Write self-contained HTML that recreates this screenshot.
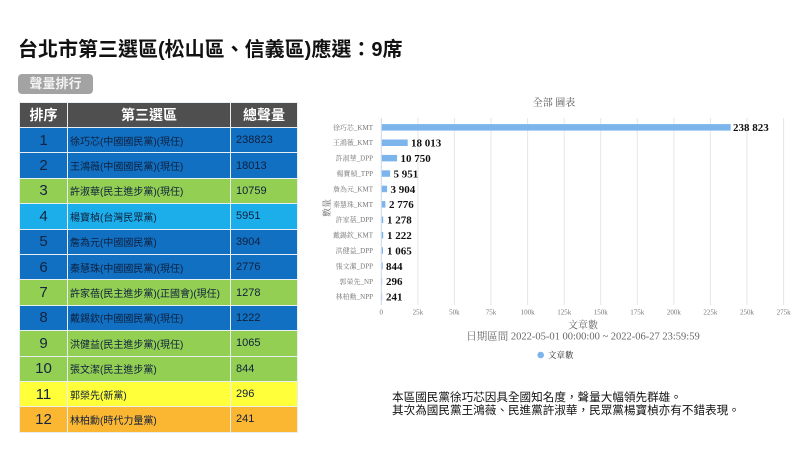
<!DOCTYPE html>
<html lang="zh-Hant">
<head>
<meta charset="utf-8">
<style>
  html,body{margin:0;padding:0;background:#fff;}
  body{width:800px;height:449px;position:relative;overflow:hidden;font-family:"Liberation Sans","Noto Sans CJK TC",sans-serif;}
  .title{position:absolute;left:18px;top:39px;font-size:20px;line-height:22px;font-weight:bold;color:#111;white-space:nowrap;}
  .btn{position:absolute;left:18px;top:74px;width:75px;height:20px;background:#a3a3a3;border-radius:4px;color:#f2f2f2;font-size:13px;font-weight:bold;line-height:20px;text-align:center;}
  table{position:absolute;left:19px;top:102px;border-collapse:collapse;table-layout:fixed;}
  td,th{padding:0;border:1px solid #e8eef2;overflow:hidden;white-space:nowrap;}
  th{background:#4f4f4f;color:#fff;font-size:14px;font-weight:bold;height:24px;text-align:center;}
  td{height:24.4px;}
  td.n{text-align:center;font-size:15px;color:#14233f;}
  td.nm{font-size:10px;color:#0f1f3d;padding-left:2px;}
  td.v{font-size:11px;color:#0f1f3d;padding-left:5px;}
  tr.b td{background:#1170c2;}
  tr.g td{background:#92cf53;}
  tr.l td{background:#1caeea;}
  tr.y td{background:#ffff3a;}
  tr.o td{background:#fbb632;}
  .note{position:absolute;left:392px;top:392px;font-size:11.6px;line-height:12.5px;color:#111;white-space:nowrap;}
  svg{position:absolute;left:0;top:0;}
</style>
</head>
<body>
<div class="title">台北市第三選區(松山區、信義區)應選：9席</div>
<div class="btn">聲量排行</div>
<table>
  <colgroup><col style="width:48px"><col style="width:163px"><col style="width:67px"></colgroup>
  <tr><th>排序</th><th>第三選區</th><th>總聲量</th></tr>
  <tr class="b"><td class="n">1</td><td class="nm">徐巧芯(中國國民黨)(現任)</td><td class="v">238823</td></tr>
  <tr class="b"><td class="n">2</td><td class="nm">王鴻薇(中國國民黨)(現任)</td><td class="v">18013</td></tr>
  <tr class="g"><td class="n">3</td><td class="nm">許淑華(民主進步黨)(現任)</td><td class="v">10759</td></tr>
  <tr class="l"><td class="n">4</td><td class="nm">楊寶楨(台灣民眾黨)</td><td class="v">5951</td></tr>
  <tr class="b"><td class="n">5</td><td class="nm">詹為元(中國國民黨)</td><td class="v">3904</td></tr>
  <tr class="b"><td class="n">6</td><td class="nm">秦慧珠(中國國民黨)(現任)</td><td class="v">2776</td></tr>
  <tr class="g"><td class="n">7</td><td class="nm">許家蓓(民主進步黨)(正國會)(現任)</td><td class="v">1278</td></tr>
  <tr class="b"><td class="n">8</td><td class="nm">戴錫欽(中國國民黨)(現任)</td><td class="v">1222</td></tr>
  <tr class="g"><td class="n">9</td><td class="nm">洪健益(民主進步黨)(現任)</td><td class="v">1065</td></tr>
  <tr class="g"><td class="n">10</td><td class="nm">張文潔(民主進步黨)</td><td class="v">844</td></tr>
  <tr class="y"><td class="n">11</td><td class="nm">郭榮先(新黨)</td><td class="v">296</td></tr>
  <tr class="o"><td class="n">12</td><td class="nm">林柏勳(時代力量黨)</td><td class="v">241</td></tr>
</table>

<svg width="800" height="449" viewBox="0 0 800 449" xmlns="http://www.w3.org/2000/svg" font-family="Liberation Serif, Noto Serif CJK SC, serif">
  <text x="554" y="106" text-anchor="middle" font-size="10" fill="#555">全部 圖表</text>
  <g stroke="#e6e6e6" stroke-width="1">
    <line x1="417.9" y1="118" x2="417.9" y2="305"/>
    <line x1="454.4" y1="118" x2="454.4" y2="305"/>
    <line x1="491.0" y1="118" x2="491.0" y2="305"/>
    <line x1="527.6" y1="118" x2="527.6" y2="305"/>
    <line x1="564.2" y1="118" x2="564.2" y2="305"/>
    <line x1="600.7" y1="118" x2="600.7" y2="305"/>
    <line x1="637.3" y1="118" x2="637.3" y2="305"/>
    <line x1="673.9" y1="118" x2="673.9" y2="305"/>
    <line x1="710.4" y1="118" x2="710.4" y2="305"/>
    <line x1="747.0" y1="118" x2="747.0" y2="305"/>
    <line x1="783.6" y1="118" x2="783.6" y2="305"/>
  </g>
  <line x1="381.3" y1="118" x2="381.3" y2="305" stroke="#ccd6eb" stroke-width="1"/>
  <g fill="#7cb5ec">
    <rect x="381.8" y="124.1" width="348.9" height="6.5"/>
    <rect x="381.8" y="139.5" width="25.9" height="6.5"/>
    <rect x="381.8" y="154.9" width="15.3" height="6.5"/>
    <rect x="381.8" y="170.3" width="8.3" height="6.5"/>
    <rect x="381.8" y="185.7" width="5.3" height="6.5"/>
    <rect x="381.8" y="201.1" width="3.6" height="6.5"/>
    <rect x="381.8" y="216.5" width="1.4" height="6.5"/>
    <rect x="381.8" y="231.9" width="1.4" height="6.5"/>
    <rect x="381.8" y="247.3" width="1.2" height="6.5"/>
    <rect x="381.8" y="262.7" width="0.9" height="6.5"/>
    <rect x="381.8" y="278.1" width="0.4" height="6.5"/>
    <rect x="381.8" y="293.5" width="0.4" height="6.5"/>
  </g>
  <g font-size="7" fill="#777" text-anchor="end">
    <text x="373" y="129.8">徐巧芯_KMT</text>
    <text x="373" y="145.2">王鴻薇_KMT</text>
    <text x="373" y="160.6">許淑華_DPP</text>
    <text x="373" y="176.0">楊寶楨_TPP</text>
    <text x="373" y="191.4">詹為元_KMT</text>
    <text x="373" y="206.8">秦慧珠_KMT</text>
    <text x="373" y="222.2">許家蓓_DPP</text>
    <text x="373" y="237.6">戴錫欽_KMT</text>
    <text x="373" y="253.0">洪健益_DPP</text>
    <text x="373" y="268.4">張文潔_DPP</text>
    <text x="373" y="283.8">郭榮先_NP</text>
    <text x="373" y="299.2">林柏勳_NPP</text>
  </g>
  <g font-size="11" font-weight="bold" fill="#111">
    <text x="733" y="131.2">238 823</text>
    <text x="411" y="146.6">18 013</text>
    <text x="400.5" y="162.0">10 750</text>
    <text x="393.5" y="177.4">5 951</text>
    <text x="390.5" y="192.8">3 904</text>
    <text x="389" y="208.2">2 776</text>
    <text x="387" y="223.6">1 278</text>
    <text x="387" y="239.0">1 222</text>
    <text x="387" y="254.4">1 065</text>
    <text x="386" y="269.8">844</text>
    <text x="386" y="285.2">296</text>
    <text x="386" y="300.6">241</text>
  </g>
  <text x="330" y="208" font-size="9" fill="#777" text-anchor="middle" transform="rotate(-90 330 208)">數量</text>
  <g font-size="7" fill="#777" text-anchor="middle">
    <text x="381.3" y="314.5">0</text>
    <text x="417.9" y="314.5">25k</text>
    <text x="454.4" y="314.5">50k</text>
    <text x="491.0" y="314.5">75k</text>
    <text x="527.6" y="314.5">100k</text>
    <text x="564.2" y="314.5">125k</text>
    <text x="600.7" y="314.5">150k</text>
    <text x="637.3" y="314.5">175k</text>
    <text x="673.9" y="314.5">200k</text>
    <text x="710.4" y="314.5">225k</text>
    <text x="747.0" y="314.5">250k</text>
    <text x="783.6" y="314.5">275k</text>
  </g>
  <text x="583" y="328.5" font-size="10" fill="#666" text-anchor="middle">文章數</text>
  <text x="583" y="339.5" font-size="10.5" fill="#666" text-anchor="middle">日期區間 2022-05-01 00:00:00 ~ 2022-06-27 23:59:59</text>
  <circle cx="540.7" cy="355" r="3.3" fill="#7cb5ec"/>
  <text x="548" y="358" font-size="8.5" fill="#333">文章數</text>
</svg>

<div class="note">本區國民黨徐巧芯因具全國知名度，聲量大幅領先群雄。<br>其次為國民黨王鴻薇、民進黨許淑華，民眾黨楊寶楨亦有不錯表現。</div>
</body>
</html>
